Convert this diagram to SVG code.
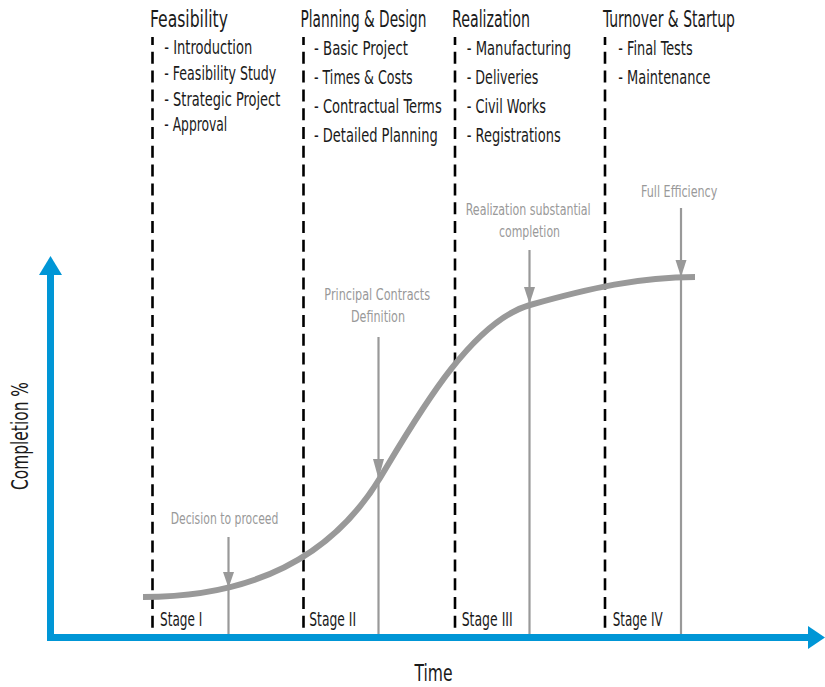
<svg xmlns="http://www.w3.org/2000/svg" width="825" height="687" viewBox="0 0 825 687">
  <style>
    text { font-family: "DejaVu Sans Condensed", "Liberation Sans Narrow", "Liberation Sans", sans-serif; }
    .hdr { font-size: 23px; fill: #1a1a1a; }
    .item { font-size: 19.5px; fill: #1a1a1a; }
    .stage { font-size: 19px; fill: #1a1a1a; }
    .note { font-size: 16.5px; fill: #999999; text-anchor: middle; }
    .axislbl { font-size: 23px; fill: #1a1a1a; text-anchor: middle; }
    .phase { stroke: #000; stroke-width: 2.6; stroke-dasharray: 12 6.8; stroke-dashoffset: 4; fill: none; }
    .ind { stroke: #999999; stroke-width: 2.2; fill: none; }
    .indhead { fill: #999999; }
    .axis { stroke: #0096d6; stroke-width: 7; fill: none; }
    .axishead { fill: #0096d6; }
    .curve { stroke: #999999; stroke-width: 6; fill: none; }
  </style>

  <!-- phase dividers -->
  <g id="dividers">
    <line class="phase" x1="152.5" y1="37" x2="152.5" y2="636"/>
    <line class="phase" x1="303.5" y1="37" x2="303.5" y2="636"/>
    <line class="phase" x1="455" y1="37" x2="455" y2="636"/>
    <line class="phase" x1="605" y1="37" x2="605" y2="636"/>
  </g>

  <!-- S curve -->
  <g id="curve">
    <path class="curve" d="M143,597 C250,597 330,560 380,478 C415,420 470,322 530,305 C590,288 640,277 695,277"/>
  </g>

  <!-- connectors: milestone indicators -->
  <g id="connectors">
    <line class="ind" x1="228.5" y1="537" x2="228.5" y2="634"/>
    <polygon class="indhead" points="228.5,588 223,572 234,572"/>
    <line class="ind" x1="378.5" y1="337" x2="378.5" y2="634"/>
    <polygon class="indhead" points="378.5,479 373,459 384,459"/>
    <line class="ind" x1="529.5" y1="250" x2="529.5" y2="634"/>
    <polygon class="indhead" points="529.5,304 524,287 535,287"/>
    <line class="ind" x1="681" y1="208" x2="681" y2="634"/>
    <polygon class="indhead" points="681,277 675.5,260 686.5,260"/>
  </g>

  <!-- axes -->
  <g id="y-axis">
    <line class="axis" x1="50.5" y1="641" x2="50.5" y2="272"/>
    <polygon class="axishead" points="50.5,256 39,275 62,275"/>
    <text class="axislbl" transform="translate(27.5,436) rotate(-90) scale(0.72,1)" textLength="150" lengthAdjust="spacingAndGlyphs">Completion %</text>
  </g>
  <g id="x-axis">
    <line class="axis" x1="47" y1="637.5" x2="810" y2="637.5"/>
    <polygon class="axishead" points="825,637.5 808,626 808,649"/>
    <text class="axislbl" transform="matrix(0.72 0 0 1 433.5 681)" textLength="52.8" lengthAdjust="spacingAndGlyphs">Time</text>
  </g>

  <!-- phase nodes -->
  <g id="feasibility">
    <text class="hdr" transform="matrix(0.72 0 0 1 150 27)" textLength="108.3" lengthAdjust="spacingAndGlyphs">Feasibility</text>
    <text class="item" transform="matrix(0.72 0 0 1 164.3 54)" textLength="122.2" lengthAdjust="spacingAndGlyphs">- Introduction</text>
    <text class="item" transform="matrix(0.72 0 0 1 164.3 80)" textLength="155.6" lengthAdjust="spacingAndGlyphs">- Feasibility Study</text>
    <text class="item" transform="matrix(0.72 0 0 1 164.3 105.5)" textLength="161.1" lengthAdjust="spacingAndGlyphs">- Strategic Project</text>
    <text class="item" transform="matrix(0.72 0 0 1 164.3 131)" textLength="87.5" lengthAdjust="spacingAndGlyphs">- Approval</text>
  </g>
  <g id="planning-design">
    <text class="hdr" transform="matrix(0.72 0 0 1 300.5 27)" textLength="175" lengthAdjust="spacingAndGlyphs">Planning &amp; Design</text>
    <text class="item" transform="matrix(0.72 0 0 1 314 55)" textLength="130.6" lengthAdjust="spacingAndGlyphs">- Basic Project</text>
    <text class="item" transform="matrix(0.72 0 0 1 314 84)" textLength="137.1" lengthAdjust="spacingAndGlyphs">- Times &amp; Costs</text>
    <text class="item" transform="matrix(0.72 0 0 1 314 113)" textLength="177.4" lengthAdjust="spacingAndGlyphs">- Contractual Terms</text>
    <text class="item" transform="matrix(0.72 0 0 1 314 142)" textLength="171.8" lengthAdjust="spacingAndGlyphs">- Detailed Planning</text>
  </g>
  <g id="realization">
    <text class="hdr" transform="matrix(0.72 0 0 1 452 27)" textLength="108.3" lengthAdjust="spacingAndGlyphs">Realization</text>
    <text class="item" transform="matrix(0.72 0 0 1 466.7 55)" textLength="144.9" lengthAdjust="spacingAndGlyphs">- Manufacturing</text>
    <text class="item" transform="matrix(0.72 0 0 1 466.7 84)" textLength="99.6" lengthAdjust="spacingAndGlyphs">- Deliveries</text>
    <text class="item" transform="matrix(0.72 0 0 1 466.7 113)" textLength="110.1" lengthAdjust="spacingAndGlyphs">- Civil Works</text>
    <text class="item" transform="matrix(0.72 0 0 1 466.7 142)" textLength="130.6" lengthAdjust="spacingAndGlyphs">- Registrations</text>
  </g>
  <g id="turnover-startup">
    <text class="hdr" transform="matrix(0.72 0 0 1 603 27)" textLength="183.3" lengthAdjust="spacingAndGlyphs">Turnover &amp; Startup</text>
    <text class="item" transform="matrix(0.72 0 0 1 618.3 55)" textLength="103.2" lengthAdjust="spacingAndGlyphs">- Final Tests</text>
    <text class="item" transform="matrix(0.72 0 0 1 618.3 84)" textLength="128.2" lengthAdjust="spacingAndGlyphs">- Maintenance</text>
  </g>

  <!-- milestone labels -->
  <g id="decision-to-proceed">
    <text class="note" transform="matrix(0.72 0 0 1 224.5 524.3)" textLength="149.6" lengthAdjust="spacingAndGlyphs">Decision to proceed</text>
  </g>
  <g id="principal-contracts">
    <text class="note" transform="matrix(0.72 0 0 1 377.2 300)" textLength="146.8" lengthAdjust="spacingAndGlyphs">Principal Contracts</text>
    <text class="note" transform="matrix(0.72 0 0 1 378 321.7)" textLength="75" lengthAdjust="spacingAndGlyphs">Definition</text>
  </g>
  <g id="realization-completion">
    <text class="note" transform="matrix(0.72 0 0 1 528.2 215)" textLength="173.6" lengthAdjust="spacingAndGlyphs">Realization substantial</text>
    <text class="note" transform="matrix(0.72 0 0 1 529.5 236.7)" textLength="84.7" lengthAdjust="spacingAndGlyphs">completion</text>
  </g>
  <g id="full-efficiency">
    <text class="note" transform="matrix(0.72 0 0 1 679.2 197.3)" textLength="106" lengthAdjust="spacingAndGlyphs">Full Efficiency</text>
  </g>

  <!-- stage labels -->
  <g id="stages">
    <text class="stage" transform="matrix(0.72 0 0 1 160 626)" textLength="58.8" lengthAdjust="spacingAndGlyphs">Stage I</text>
    <text class="stage" transform="matrix(0.72 0 0 1 309.3 626)" textLength="64.9" lengthAdjust="spacingAndGlyphs">Stage II</text>
    <text class="stage" transform="matrix(0.72 0 0 1 461.7 626)" textLength="70.8" lengthAdjust="spacingAndGlyphs">Stage III</text>
    <text class="stage" transform="matrix(0.72 0 0 1 612.7 626)" textLength="69.4" lengthAdjust="spacingAndGlyphs">Stage IV</text>
  </g>
</svg>
